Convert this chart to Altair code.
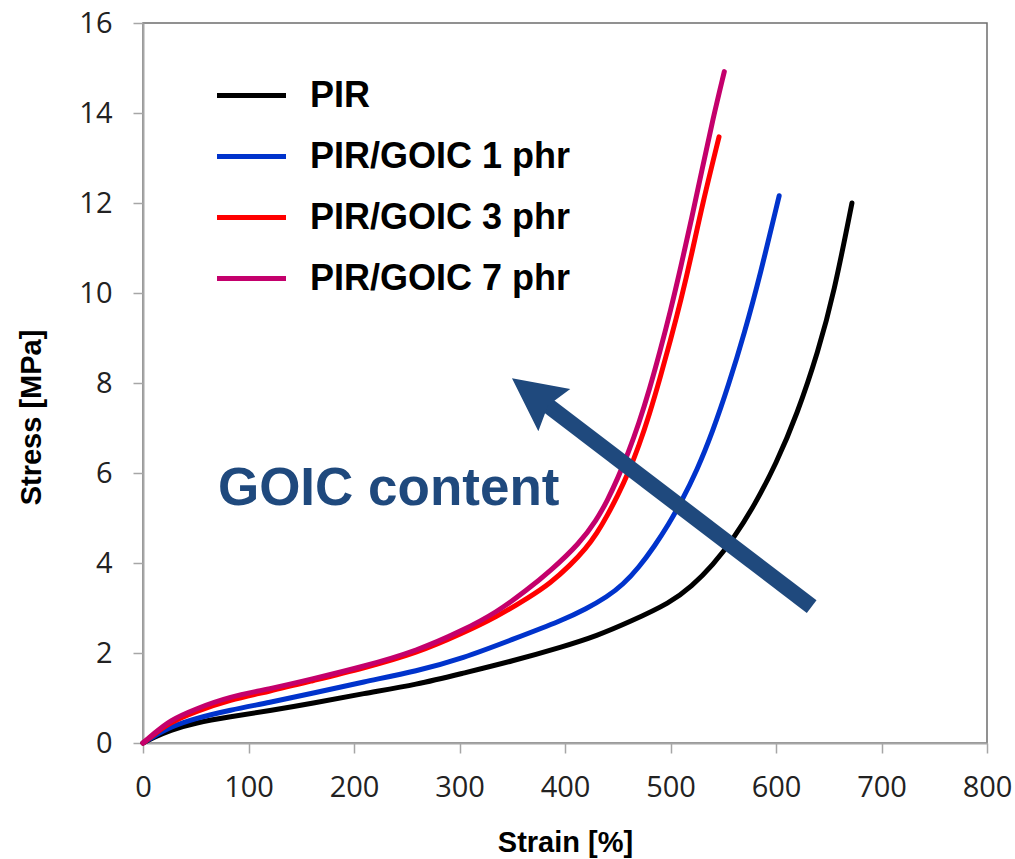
import altair as alt
import pandas as pd

# Tensile curves: stress (MPa) against strain (%) for each compound
series_names = ["PIR", "PIR/GOIC 1 phr", "PIR/GOIC 3 phr", "PIR/GOIC 7 phr"]
series_colors = ["#000000", "#0033CC", "#FF0000", "#C4006C"]

pir_strain = [0, 10, 25, 50, 82, 120, 160, 209, 260, 303, 350, 398, 430, 462, 500,
              520, 540, 560, 580, 600, 620, 640, 655, 672]
pir_stress = [0, 0.12, 0.28, 0.45, 0.58, 0.72, 0.88, 1.10, 1.30, 1.55, 1.82, 2.14, 2.38,
              2.70, 3.12, 3.48, 3.95, 4.55, 5.30, 6.20, 7.30, 8.70, 10.00, 12.00]

goic1_strain = [0, 10, 25, 50, 82, 120, 160, 209, 260, 303, 350, 398, 420, 440, 455,
                470, 485, 498, 510, 525, 540, 555, 570, 585, 603]
goic1_stress = [0, 0.14, 0.35, 0.55, 0.73, 0.90, 1.10, 1.36, 1.60, 1.88, 2.30, 2.73, 2.98,
                3.25, 3.52, 3.90, 4.38, 4.85, 5.35, 6.05, 6.92, 7.95, 9.10, 10.40, 12.16]

goic3_strain = [0, 10, 25, 50, 82, 120, 160, 209, 260, 303, 335, 367, 386, 405, 420,
                430, 440, 450, 460, 470, 480, 490, 500, 510, 520, 530, 546]
goic3_stress = [0, 0.18, 0.45, 0.70, 0.96, 1.15, 1.38, 1.66, 2.00, 2.44, 2.80, 3.25, 3.55,
                3.95, 4.33, 4.65, 5.05, 5.50, 6.00, 6.60, 7.30, 8.10, 8.95, 9.85, 10.85,
                11.95, 13.47]

goic7_strain = [0, 10, 25, 50, 82, 120, 160, 209, 260, 303, 335, 364, 386, 414, 430,
                440, 450, 460, 470, 480, 490, 500, 510, 520, 530, 540, 551]
goic7_stress = [0, 0.20, 0.50, 0.76, 1.03, 1.20, 1.42, 1.70, 2.05, 2.50, 2.90, 3.40, 3.82,
                4.44, 4.96, 5.38, 5.88, 6.45, 7.10, 7.85, 8.70, 9.60, 10.60, 11.65, 12.75,
                13.85, 14.92]

# Annotation: arrow showing increasing GOIC content, with its caption
arrow_tail = [633.8, 3.03]
arrow_head = [369.8, 7.75]
caption_text = "GOIC content"
caption_pos = [71, 5.29]

navy = "#1F497D"

rows = []
for name, xs, ys in zip(series_names,
                        [pir_strain, goic1_strain, goic3_strain, goic7_strain],
                        [pir_stress, goic1_stress, goic3_stress, goic7_stress]):
    for sx, sy in zip(xs, ys):
        rows.append({"series": name, "strain": sx, "stress": sy})
curves = pd.DataFrame(rows)

x_enc = alt.X(
    "strain:Q",
    scale=alt.Scale(domain=[0, 800], nice=False, zero=False),
    axis=alt.Axis(
        title="Strain [%]",
        values=list(range(0, 801, 100)),
        labelPadding=20,
        labelFlush=False,
        labelOverlap=False,
        titleX=422,
        titleY=99,
        titleAlign="center",
        titleBaseline="middle",
    ),
)
y_enc = alt.Y(
    "stress:Q",
    scale=alt.Scale(domain=[0, 16], nice=False, zero=False),
    axis=alt.Axis(
        title="Stress [MPa]",
        values=list(range(0, 17, 2)),
        labelPadding=21,
        labelFlush=False,
        labelOverlap=False,
        titleX=-112,
        titleY=394,
        titleAngle=270,
        titleAlign="center",
        titleBaseline="middle",
    ),
)

lines = alt.Chart(curves).mark_line(
    strokeWidth=5, strokeCap="round", strokeJoin="round", interpolate="basis"
).encode(
    x=x_enc,
    y=y_enc,
    color=alt.Color(
        "series:N",
        scale=alt.Scale(domain=series_names, range=series_colors),
        legend=alt.Legend(
            title=None,
            orient="none",
            legendX=76,
            legendY=40,
            padding=0,
            symbolType="M-1.15,0H1.15",
            symbolSize=3600,
            symbolStrokeWidth=5,
            labelFont="Liberation Sans",
            labelFontSize=36,
            labelFontWeight="bold",
            labelColor="#000000",
            labelOffset=26,
            labelLimit=600,
            rowPadding=10,
        ),
    ),
    detail="series:N",
)

shaft_df = pd.DataFrame({
    "strain": [arrow_tail[0]], "stress": [arrow_tail[1]],
    "strain2": [arrow_head[0]], "stress2": [arrow_head[1]],
})
shaft = alt.Chart(shaft_df).mark_rule(
    strokeWidth=16, color=navy, strokeCap="butt"
).encode(x="strain:Q", y="stress:Q", x2="strain2:Q", y2="stress2:Q")

head_df = pd.DataFrame({"strain": [arrow_head[0]], "stress": [arrow_head[1]]})
head = alt.Chart(head_df).mark_point(
    shape="M0,-1L1,1L0,0.7L-1,1Z",
    size=2809,
    filled=True,
    color=navy,
    opacity=1,
    strokeWidth=0,
    angle=307,
).encode(x="strain:Q", y="stress:Q")

caption_df = pd.DataFrame({"strain": [caption_pos[0]], "stress": [caption_pos[1]],
                           "label": [caption_text]})
caption = alt.Chart(caption_df).mark_text(
    align="left",
    baseline="alphabetic",
    font="Liberation Sans",
    fontWeight="bold",
    fontSize=53,
    color=navy,
).encode(x="strain:Q", y="stress:Q", text="label:N")

chart = alt.layer(lines, shaft, head, caption).properties(
    width=844,
    height=720,
    autosize=alt.AutoSizeParams(type="none"),
    padding={"left": 143, "top": 23, "right": 28, "bottom": 116},
    background="white",
).configure_view(
    stroke="#6e6e6e", strokeWidth=1.5
).configure_axis(
    grid=False,
    domainColor="#a6a6a6",
    domainWidth=2,
    tickColor="#a6a6a6",
    tickWidth=1.5,
    tickSize=10,
    labelFont="Open Sans",
    labelFontSize=29,
    labelColor="#222222",
    titleFont="Liberation Sans",
    titleFontSize=29,
    titleFontWeight="bold",
    titleColor="#000000",
)

chart.save("out.html", embed_options={"renderer": "svg", "actions": False})
